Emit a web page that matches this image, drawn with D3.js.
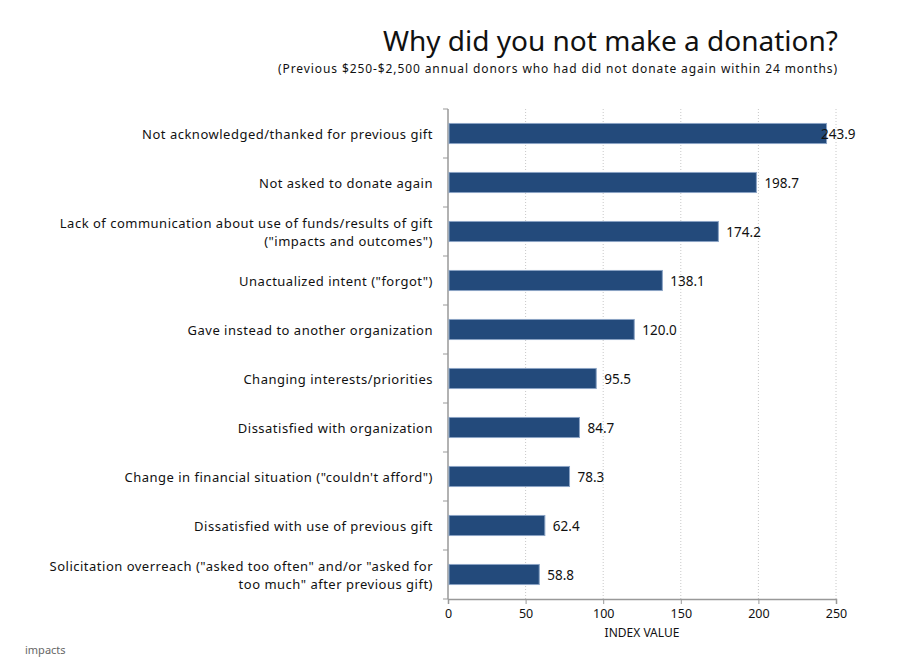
<!DOCTYPE html>
<html>
<head>
<meta charset="utf-8">
<script src="https://cdn.jsdelivr.net/npm/d3@7"></script>
<style>
  body { margin: 0; background: #fff; }
  text { font-family: "Noto Sans", sans-serif; fill: #111; }
</style>
</head>
<body>
<div id="chart"></div>
<script>
// reasons, top to bottom (each line of a label is one item)
const reasons = [
    ["Not acknowledged/thanked for previous gift"],
    ["Not asked to donate again"],
    ["Lack of communication about use of funds/results of gift", "(\"impacts and outcomes\")"],
    ["Unactualized intent (\"forgot\")"],
    ["Gave instead to another organization"],
    ["Changing interests/priorities"],
    ["Dissatisfied with organization"],
    ["Change in financial situation (\"couldn't afford\")"],
    ["Dissatisfied with use of previous gift"],
    ["Solicitation overreach (\"asked too often\" and/or \"asked for", "too much\" after previous gift)"]
]

const index_values = [243.9, 198.7, 174.2, 138.1, 120.0, 95.5, 84.7, 78.3, 62.4, 58.8]

const x_ticks = [0, 50, 100, 150, 200, 250]

const bar_color = '#234a7b'

const chart_width = 900
const chart_height = 668
const plot_left = 448
const plot_right = 836
const plot_top = 109
const plot_bottom = 599

var svg = d3.select('#chart')
    .append('svg')
    .attr('width', chart_width)
    .attr('height', chart_height)

// Title
svg.append('text')
    .attr('x', 838)
    .attr('y', 51)
    .attr('text-anchor', 'end')
    .style('font-size', '28px')
    .text('Why did you not make a donation?')

svg.append('text')
    .attr('x', 838)
    .attr('y', 73)
    .attr('text-anchor', 'end')
    .style('font-size', '12px')
    .style('letter-spacing', '0.9px')
    .text('(Previous $250-$2,500 annual donors who had did not donate again within 24 months)')

// Scales
var x_scale = d3.scaleLinear()
    .domain([0, 250])
    .range([plot_left, plot_right])

var y_scale = d3.scaleBand()
    .domain(d3.range(reasons.length))
    .range([plot_top, plot_bottom])
    .paddingInner(0.59)
    .paddingOuter(0.295)

// Gridlines
svg.append('g')
    .selectAll('line')
    .data(x_ticks.slice(1))
    .enter()
    .append('line')
    .attr('x1', d => x_scale(d))
    .attr('x2', d => x_scale(d))
    .attr('y1', plot_top)
    .attr('y2', plot_bottom)
    .attr('stroke', '#c8c8c8')
    .attr('stroke-dasharray', '1,2')

// X axis
var x_axis = d3.axisBottom(x_scale)
    .tickValues(x_ticks)
    .tickSize(5)
    .tickFormat(d3.format('d'))

var gx = svg.append('g')
    .attr('class', 'x-axis')
    .attr('transform', 'translate(0,' + plot_bottom + ')')
    .call(x_axis)
gx.select('.domain').attr('stroke', '#999').attr('stroke-width', 1.5)
gx.selectAll('.tick line').attr('stroke', '#999')
gx.selectAll('.tick text')
    .attr('y', 10)
    .style('font-size', '12.5px')
    .style('font-family', '"Noto Sans", sans-serif')
    .attr('fill', '#111')

svg.append('text')
    .attr('x', x_scale(125))
    .attr('y', 637)
    .attr('text-anchor', 'middle')
    .style('font-size', '12px')
    .text('INDEX VALUE')

// Y axis (line with ticks between categories)
var step = y_scale.step()
svg.append('line')
    .attr('x1', plot_left).attr('x2', plot_left)
    .attr('y1', plot_top).attr('y2', plot_bottom)
    .attr('stroke', '#999')
    .attr('stroke-width', 1.5)

svg.append('g')
    .selectAll('line')
    .data(d3.range(reasons.length + 1))
    .enter()
    .append('line')
    .attr('x1', plot_left - 5)
    .attr('x2', plot_left)
    .attr('y1', d => plot_top + d * step)
    .attr('y2', d => plot_top + d * step)
    .attr('stroke', '#999')

// Category labels, one text per line
var label_groups = svg.append('g')
    .selectAll('g')
    .data(reasons)
    .enter()
    .append('g')
    .attr('transform', function(d, i){
        var cy = y_scale(i) + y_scale.bandwidth() / 2
        return 'translate(433,' + (cy + 5 - (d.length - 1) * 9) + ')'
    })

label_groups.selectAll('text')
    .data(d => d)
    .enter()
    .append('text')
    .attr('text-anchor', 'end')
    .attr('y', (d, i) => i * 18)
    .style('font-size', '13px')
    .style('letter-spacing', '0.5px')
    .text(d => d)

// Bars
svg.append('g')
    .selectAll('rect')
    .data(index_values)
    .enter()
    .append('rect')
    .attr('x', x_scale(0) + 1)
    .attr('y', (d, i) => y_scale(i))
    .attr('width', d => x_scale(d) - x_scale(0) - 1)
    .attr('height', y_scale.bandwidth())
    .attr('fill', bar_color)
    .attr('stroke', '#8aa3c4')
    .attr('stroke-width', 1)

// Value labels
svg.append('g')
    .selectAll('text')
    .data(index_values)
    .enter()
    .append('text')
    .attr('x', d => Math.min(x_scale(d) + 8, 821))
    .attr('y', (d, i) => y_scale(i) + y_scale.bandwidth() / 2 + 5)
    .style('font-size', '13.5px')
    .text(d => d.toFixed(1))

// Logo text
svg.append('text')
    .attr('x', 25)
    .attr('y', 654)
    .style('font-size', '11px')
    .style('fill', '#666')
    .text('impacts')
</script>
</body>
</html>
